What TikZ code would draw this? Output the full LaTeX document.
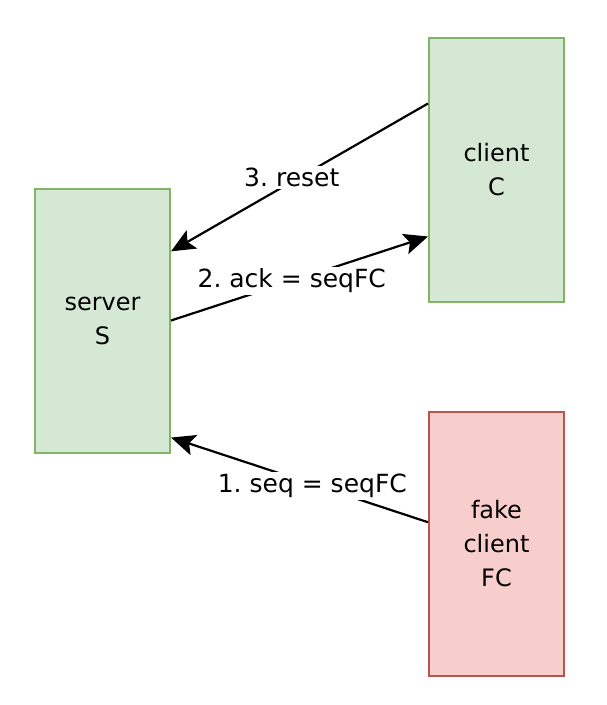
\documentclass[tikz,border=0pt]{standalone}
\usepackage{fontspec}
\setmainfont{DejaVu Sans}
\usetikzlibrary{calc,arrows.meta}
\frenchspacing

\definecolor{greenfill}{HTML}{D5E8D4}
\definecolor{greendraw}{HTML}{82B366}
\definecolor{redfill}{HTML}{F8CECC}
\definecolor{reddraw}{HTML}{B85450}

\begin{document}
\begin{tikzpicture}[
    x=1pt, y=-1pt,
    box/.style={draw, line width=2pt, minimum width=135pt, minimum height=264pt,
      align=center, font=\fontsize{24}{34}\selectfont},
    okbox/.style={box, fill=greenfill, draw=greendraw},
    fakebox/.style={box, fill=redfill, draw=reddraw},
    msg/.style={-{Stealth[length=24pt, width=21pt, inset=5pt]}, line width=2.2pt},
    lbl/.style={fill=white, inner sep=2pt, font=\fontsize{25}{28}\selectfont},
  ]

  \useasboundingbox (0,0) rectangle (606,705);

  % Hosts
  \node[okbox] (server) at (102.5,320.5) {server\\S};
  \node[okbox] (client) at (496.5,170) {client\\C};
  \node[fakebox] (fake) at (496.5,543.5) {fake\\client\\FC};

  % Messages
  \draw[msg] ($(client.north west)!0.25!(client.south west)$)
    -- node[lbl, pos=0.53, yshift=4pt] {3. reset}
    ($(server.north east)!0.24!(server.south east)$);

  \draw[msg] ($(server.north east)!0.5!(server.south east)$)
    -- node[lbl, pos=0.47] {2. ack = seqFC}
    ($(client.north west)!0.75!(client.south west)$);

  \draw[msg] ($(fake.north west)!0.42!(fake.south west)$)
    -- node[lbl, pos=0.45, yshift=-2pt] {1. seq = seqFC}
    ($(server.north east)!0.94!(server.south east)$);

\end{tikzpicture}
\end{document}
